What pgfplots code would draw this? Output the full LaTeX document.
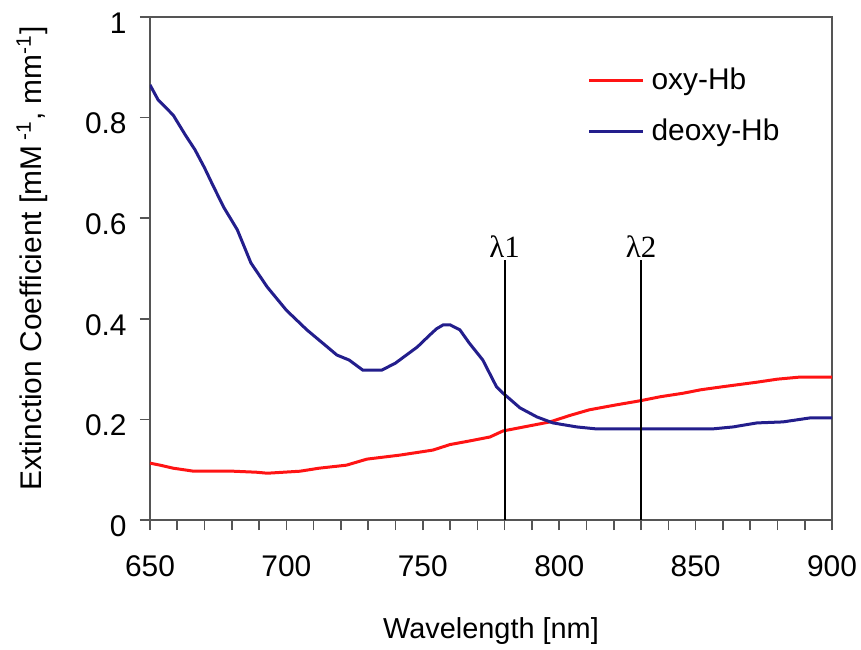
\documentclass[border=0pt]{standalone}
\usepackage{pgfplots}
\pgfplotsset{compat=1.18}
\usepackage{fontspec}
\setmainfont{Liberation Sans}
\newfontfamily\lamfont{Liberation Serif}
\definecolor{oxyred}{RGB}{255,20,20}
\definecolor{deoxyblue}{RGB}{35,30,140}
\definecolor{framegray}{RGB}{85,85,85}
\begin{document}
\begin{tikzpicture}
\begin{axis}[
  scale only axis,
  width=341bp, height=251.5bp,
  xmin=650, xmax=900, ymin=0, ymax=1,
  xtick={650,700,...,900},
  minor xtick={660,670,680,690,710,720,730,740,760,770,780,790,810,820,830,840,860,870,880,890},
  ytick={0,0.2,0.4,0.6,0.8,1},
  yticklabels={0,0.2,0.4,0.6,0.8,1},
  xticklabels={650,700,750,800,850,900},
  tick align=outside,
  xtick pos=bottom, ytick pos=left,
  major tick length=5bp, minor tick length=5bp,
  tick style={framegray, line width=0.8bp},
  axis line style={framegray, line width=1bp},
  every tick label/.append style={font=\fontsize{15}{18}\selectfont, text=black, inner sep=0pt},
  xticklabel style={yshift=-12.5bp},
  yticklabel style={xshift=-6.5bp, yshift=-3bp},
  /pgf/number format/assume math mode=true,
  xlabel={Wavelength [nm]},
  ylabel={Extinction Coefficient [mM\,\textsuperscript{-1}, mm\textsuperscript{-1}]},
  xlabel style={font=\fontsize{14.5}{17}\selectfont, at={(axis description cs:0.5,0)}, anchor=north, inner sep=0pt, yshift=-48.5bp},
  ylabel style={font=\fontsize{15}{18}\selectfont, at={(axis description cs:-0.1496,0.52)}, anchor=south, inner sep=0pt},
  legend style={draw=none, fill=none, at={(axis description cs:0.641,0.907)}, anchor=north west,
    inner sep=0pt, font=\fontsize{15}{18}\selectfont, row sep=9bp,
    /tikz/every odd column/.append style={column sep=1.5bp}},
  legend cell align=left,
  legend image code/.code={\draw[#1, line width=1.5bp] (0bp,0bp) -- (27bp,0bp);},
]
\addplot[oxyred, line width=1.5bp] coordinates {
(650,0.113) (653.7,0.109) (658.5,0.103) (666,0.097) (680.5,0.097) (689,0.095) (693,0.093)
(699,0.095) (705,0.097) (712,0.103) (722,0.109) (729.5,0.121) (741.6,0.129) (753.7,0.139) (760,0.150)
(767,0.157) (774.6,0.165) (779.4,0.177) (788,0.186) (796.6,0.195) (804,0.208) (811,0.219) (820,0.228) (829.6,0.237) (837,0.245) (845.4,0.252)
(852,0.259) (860,0.265) (872.5,0.274) (880,0.280) (888,0.284) (900,0.284)
};
\addlegendentry{oxy-Hb}
\addplot[deoxyblue, line width=1.5bp] coordinates {
(650,0.865) (651.5,0.850) (653,0.835) (658.5,0.805) (663,0.765) (666.5,0.736) (670,0.700) (673,0.666) (677,0.622)
(682,0.577) (687,0.511) (693,0.463) (700,0.417) (707.5,0.378) (715,0.344) (718.5,0.328)
(723,0.318) (728,0.298) (735,0.298) (740,0.312) (744,0.328) (748,0.344) (752.6,0.368) (755,0.380) (757.5,0.388)
(760,0.388) (763.6,0.378) (767,0.352) (772,0.318) (777,0.265) (779,0.254) (782,0.240) (785.6,0.223)
(791.8,0.205) (797.7,0.193) (806.5,0.185) (813.8,0.181) (856,0.181) (863.7,0.185)
(872.5,0.193) (882,0.195) (892,0.203) (900,0.203)
};
\addlegendentry{deoxy-Hb}
\addplot[black, line width=0.9bp, forget plot] coordinates {(780,0) (780,0.517)};
\addplot[black, line width=0.9bp, forget plot] coordinates {(830,0) (830,0.517)};
\node[anchor=south, inner sep=1bp, font=\lamfont\fontsize{15.5}{18}\selectfont] at (axis cs:780,0.518) {λ1};
\node[anchor=south, inner sep=1bp, font=\lamfont\fontsize{15.5}{18}\selectfont] at (axis cs:830,0.518) {λ2};
\end{axis}
\path ([xshift=-75bp, yshift=8.5bp]current axis.north west) rectangle ([xshift=14.5bp, yshift=-65bp]current axis.south east);
\end{tikzpicture}
\end{document}
